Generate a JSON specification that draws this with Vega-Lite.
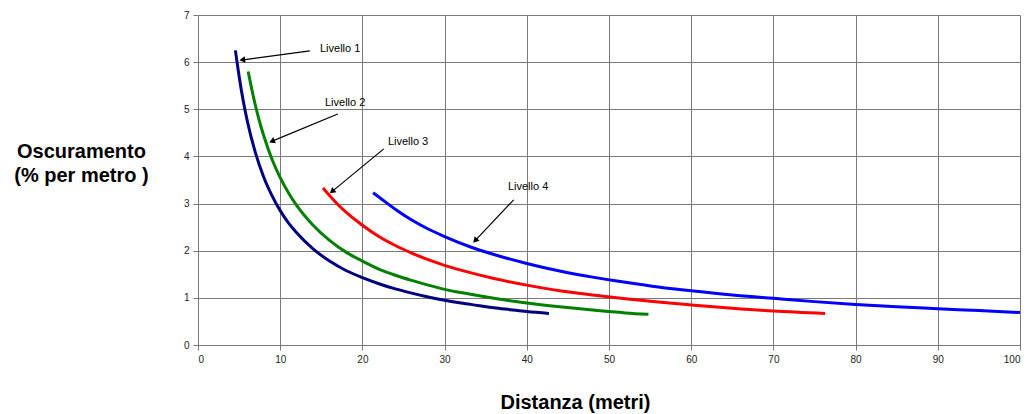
{
  "$schema": "https://vega.github.io/schema/vega-lite/v6.json",
  "width": 822,
  "height": 330,
  "autosize": "none",
  "padding": {"left": 198, "top": 15, "right": 12, "bottom": 69},
  "background": "white",
  "config": {
    "view": {"stroke": null},
    "font": "Liberation Sans",
    "axis": {
      "gridColor": "#7a7a7a", "gridOpacity": 1, "gridWidth": 1,
      "domainColor": "#7a7a7a", "tickColor": "#7a7a7a", "tickSize": 5,
      "labelFont": "Liberation Sans", "labelFontSize": 10, "labelColor": "#222",
      "titleFont": "Liberation Sans", "titleFontSize": 20, "titleFontWeight": "bold", "titleColor": "#000"
    }
  },
  "datasets": {
    "curves": [
      {"livello": "Livello 1", "d": 4.55, "o": 6.25},
      {"livello": "Livello 1", "d": 4.75, "o": 6.0},
      {"livello": "Livello 1", "d": 5, "o": 5.7},
      {"livello": "Livello 1", "d": 5.5, "o": 5.18},
      {"livello": "Livello 1", "d": 6, "o": 4.75},
      {"livello": "Livello 1", "d": 7, "o": 4.07},
      {"livello": "Livello 1", "d": 8, "o": 3.56},
      {"livello": "Livello 1", "d": 9, "o": 3.17},
      {"livello": "Livello 1", "d": 10, "o": 2.85},
      {"livello": "Livello 1", "d": 11, "o": 2.59},
      {"livello": "Livello 1", "d": 12, "o": 2.38},
      {"livello": "Livello 1", "d": 14, "o": 2.04},
      {"livello": "Livello 1", "d": 16, "o": 1.78},
      {"livello": "Livello 1", "d": 18, "o": 1.58},
      {"livello": "Livello 1", "d": 20, "o": 1.43},
      {"livello": "Livello 1", "d": 22, "o": 1.3},
      {"livello": "Livello 1", "d": 24, "o": 1.19},
      {"livello": "Livello 1", "d": 26, "o": 1.1},
      {"livello": "Livello 1", "d": 28, "o": 1.02},
      {"livello": "Livello 1", "d": 30, "o": 0.95},
      {"livello": "Livello 1", "d": 32, "o": 0.89},
      {"livello": "Livello 1", "d": 34, "o": 0.84},
      {"livello": "Livello 1", "d": 36, "o": 0.79},
      {"livello": "Livello 1", "d": 38, "o": 0.75},
      {"livello": "Livello 1", "d": 40, "o": 0.71},
      {"livello": "Livello 1", "d": 42.7, "o": 0.67},
      {"livello": "Livello 2", "d": 6.1, "o": 5.8},
      {"livello": "Livello 2", "d": 6.5, "o": 5.46},
      {"livello": "Livello 2", "d": 7, "o": 5.07},
      {"livello": "Livello 2", "d": 7.5, "o": 4.73},
      {"livello": "Livello 2", "d": 8, "o": 4.44},
      {"livello": "Livello 2", "d": 9, "o": 3.94},
      {"livello": "Livello 2", "d": 10, "o": 3.55},
      {"livello": "Livello 2", "d": 11, "o": 3.23},
      {"livello": "Livello 2", "d": 12, "o": 2.96},
      {"livello": "Livello 2", "d": 14, "o": 2.54},
      {"livello": "Livello 2", "d": 16, "o": 2.22},
      {"livello": "Livello 2", "d": 18, "o": 1.97},
      {"livello": "Livello 2", "d": 20, "o": 1.78},
      {"livello": "Livello 2", "d": 22, "o": 1.61},
      {"livello": "Livello 2", "d": 24, "o": 1.48},
      {"livello": "Livello 2", "d": 26, "o": 1.37},
      {"livello": "Livello 2", "d": 28, "o": 1.27},
      {"livello": "Livello 2", "d": 30, "o": 1.18},
      {"livello": "Livello 2", "d": 33, "o": 1.08},
      {"livello": "Livello 2", "d": 36, "o": 0.99},
      {"livello": "Livello 2", "d": 40, "o": 0.89},
      {"livello": "Livello 2", "d": 44, "o": 0.81},
      {"livello": "Livello 2", "d": 48, "o": 0.74},
      {"livello": "Livello 2", "d": 52, "o": 0.68},
      {"livello": "Livello 2", "d": 54.8, "o": 0.65},
      {"livello": "Livello 3", "d": 15.2, "o": 3.33},
      {"livello": "Livello 3", "d": 16, "o": 3.17},
      {"livello": "Livello 3", "d": 17, "o": 2.98},
      {"livello": "Livello 3", "d": 18, "o": 2.82},
      {"livello": "Livello 3", "d": 20, "o": 2.54},
      {"livello": "Livello 3", "d": 22, "o": 2.3},
      {"livello": "Livello 3", "d": 24, "o": 2.11},
      {"livello": "Livello 3", "d": 26, "o": 1.95},
      {"livello": "Livello 3", "d": 28, "o": 1.81},
      {"livello": "Livello 3", "d": 30, "o": 1.69},
      {"livello": "Livello 3", "d": 33, "o": 1.54},
      {"livello": "Livello 3", "d": 36, "o": 1.41},
      {"livello": "Livello 3", "d": 40, "o": 1.27},
      {"livello": "Livello 3", "d": 44, "o": 1.15},
      {"livello": "Livello 3", "d": 48, "o": 1.06},
      {"livello": "Livello 3", "d": 52, "o": 0.98},
      {"livello": "Livello 3", "d": 56, "o": 0.91},
      {"livello": "Livello 3", "d": 60, "o": 0.85},
      {"livello": "Livello 3", "d": 65, "o": 0.78},
      {"livello": "Livello 3", "d": 70, "o": 0.72},
      {"livello": "Livello 3", "d": 76.3, "o": 0.67},
      {"livello": "Livello 4", "d": 21.3, "o": 3.23},
      {"livello": "Livello 4", "d": 22, "o": 3.14},
      {"livello": "Livello 4", "d": 24, "o": 2.88},
      {"livello": "Livello 4", "d": 26, "o": 2.65},
      {"livello": "Livello 4", "d": 28, "o": 2.46},
      {"livello": "Livello 4", "d": 30, "o": 2.3},
      {"livello": "Livello 4", "d": 33, "o": 2.09},
      {"livello": "Livello 4", "d": 36, "o": 1.92},
      {"livello": "Livello 4", "d": 40, "o": 1.73},
      {"livello": "Livello 4", "d": 44, "o": 1.57},
      {"livello": "Livello 4", "d": 48, "o": 1.44},
      {"livello": "Livello 4", "d": 52, "o": 1.33},
      {"livello": "Livello 4", "d": 56, "o": 1.23},
      {"livello": "Livello 4", "d": 60, "o": 1.15},
      {"livello": "Livello 4", "d": 65, "o": 1.06},
      {"livello": "Livello 4", "d": 70, "o": 0.99},
      {"livello": "Livello 4", "d": 75, "o": 0.92},
      {"livello": "Livello 4", "d": 80, "o": 0.86},
      {"livello": "Livello 4", "d": 85, "o": 0.81},
      {"livello": "Livello 4", "d": 90, "o": 0.77},
      {"livello": "Livello 4", "d": 95, "o": 0.73},
      {"livello": "Livello 4", "d": 100, "o": 0.69}
    ],
    "notes": [
      {"label": "Livello 1", "tx": 14.84, "ty": 6.28, "x1": 13.6, "y1": 6.24, "x2": 5.5, "y2": 6.05},
      {"label": "Livello 2", "tx": 15.45, "ty": 5.13, "x1": 17.0, "y1": 4.9, "x2": 9.1, "y2": 4.33},
      {"label": "Livello 3", "tx": 23.1, "ty": 4.31, "x1": 22.6, "y1": 4.16, "x2": 16.4, "y2": 3.27},
      {"label": "Livello 4", "tx": 37.7, "ty": 3.35, "x1": 38.4, "y1": 3.08, "x2": 33.8, "y2": 2.23}
    ]
  },
  "layer": [
    {
      "data": {"name": "curves"},
      "mark": {"type": "line", "strokeWidth": 3, "interpolate": "monotone"},
      "encoding": {
        "x": {
          "field": "d", "type": "quantitative",
          "scale": {"domain": [0, 100], "nice": false},
          "axis": {"values": [0,10,20,30,40,50,60,70,80,90,100], "title": "Distanza (metri)",
                   "titleX": 377, "titleY": 57, "titleBaseline": "middle", "titleAnchor": "start", "titleAlign": "center",
                   "labelPadding": 4}
        },
        "y": {
          "field": "o", "type": "quantitative",
          "scale": {"domain": [0, 7], "nice": false},
          "axis": {"values": [0,1,2,3,4,5,6,7], "title": ["Oscuramento", "(% per metro )"],
                   "titleAngle": 0, "titleX": -117, "titleY": 136, "titleAlign": "center",
                   "titleBaseline": "middle", "titleLineHeight": 24, "labelPadding": 4}
        },
        "color": {
          "field": "livello", "type": "nominal",
          "scale": {"domain": ["Livello 1", "Livello 2", "Livello 3", "Livello 4"],
                    "range": ["#000080", "#008000", "#ff0000", "#0000ff"]},
          "legend": null
        }
      }
    },
    {
      "data": {"name": "notes"},
      "mark": {"type": "rule", "color": "#000", "strokeWidth": 1.2},
      "encoding": {
        "x": {"field": "x1", "type": "quantitative"},
        "y": {"field": "y1", "type": "quantitative"},
        "x2": {"field": "x2"},
        "y2": {"field": "y2"}
      }
    },
    {
      "data": {"name": "notes"},
      "transform": [{"filter": "datum.label === 'Livello 1'"}],
      "mark": {"type": "point", "shape": "triangle", "filled": true, "color": "#000", "size": 45, "opacity": 1, "angle": 262},
      "encoding": {"x": {"field": "x2", "type": "quantitative"}, "y": {"field": "y2", "type": "quantitative"}}
    },
    {
      "data": {"name": "notes"},
      "transform": [{"filter": "datum.label === 'Livello 2'"}],
      "mark": {"type": "point", "shape": "triangle", "filled": true, "color": "#000", "size": 45, "opacity": 1, "angle": 247},
      "encoding": {"x": {"field": "x2", "type": "quantitative"}, "y": {"field": "y2", "type": "quantitative"}}
    },
    {
      "data": {"name": "notes"},
      "transform": [{"filter": "datum.label === 'Livello 3'"}],
      "mark": {"type": "point", "shape": "triangle", "filled": true, "color": "#000", "size": 45, "opacity": 1, "angle": 230},
      "encoding": {"x": {"field": "x2", "type": "quantitative"}, "y": {"field": "y2", "type": "quantitative"}}
    },
    {
      "data": {"name": "notes"},
      "transform": [{"filter": "datum.label === 'Livello 4'"}],
      "mark": {"type": "point", "shape": "triangle", "filled": true, "color": "#000", "size": 45, "opacity": 1, "angle": 223},
      "encoding": {"x": {"field": "x2", "type": "quantitative"}, "y": {"field": "y2", "type": "quantitative"}}
    },
    {
      "data": {"name": "notes"},
      "mark": {"type": "text", "align": "left", "baseline": "middle", "fontSize": 11, "color": "#000", "font": "Liberation Sans"},
      "encoding": {
        "x": {"field": "tx", "type": "quantitative"},
        "y": {"field": "ty", "type": "quantitative"},
        "text": {"field": "label"}
      }
    }
  ]
}
